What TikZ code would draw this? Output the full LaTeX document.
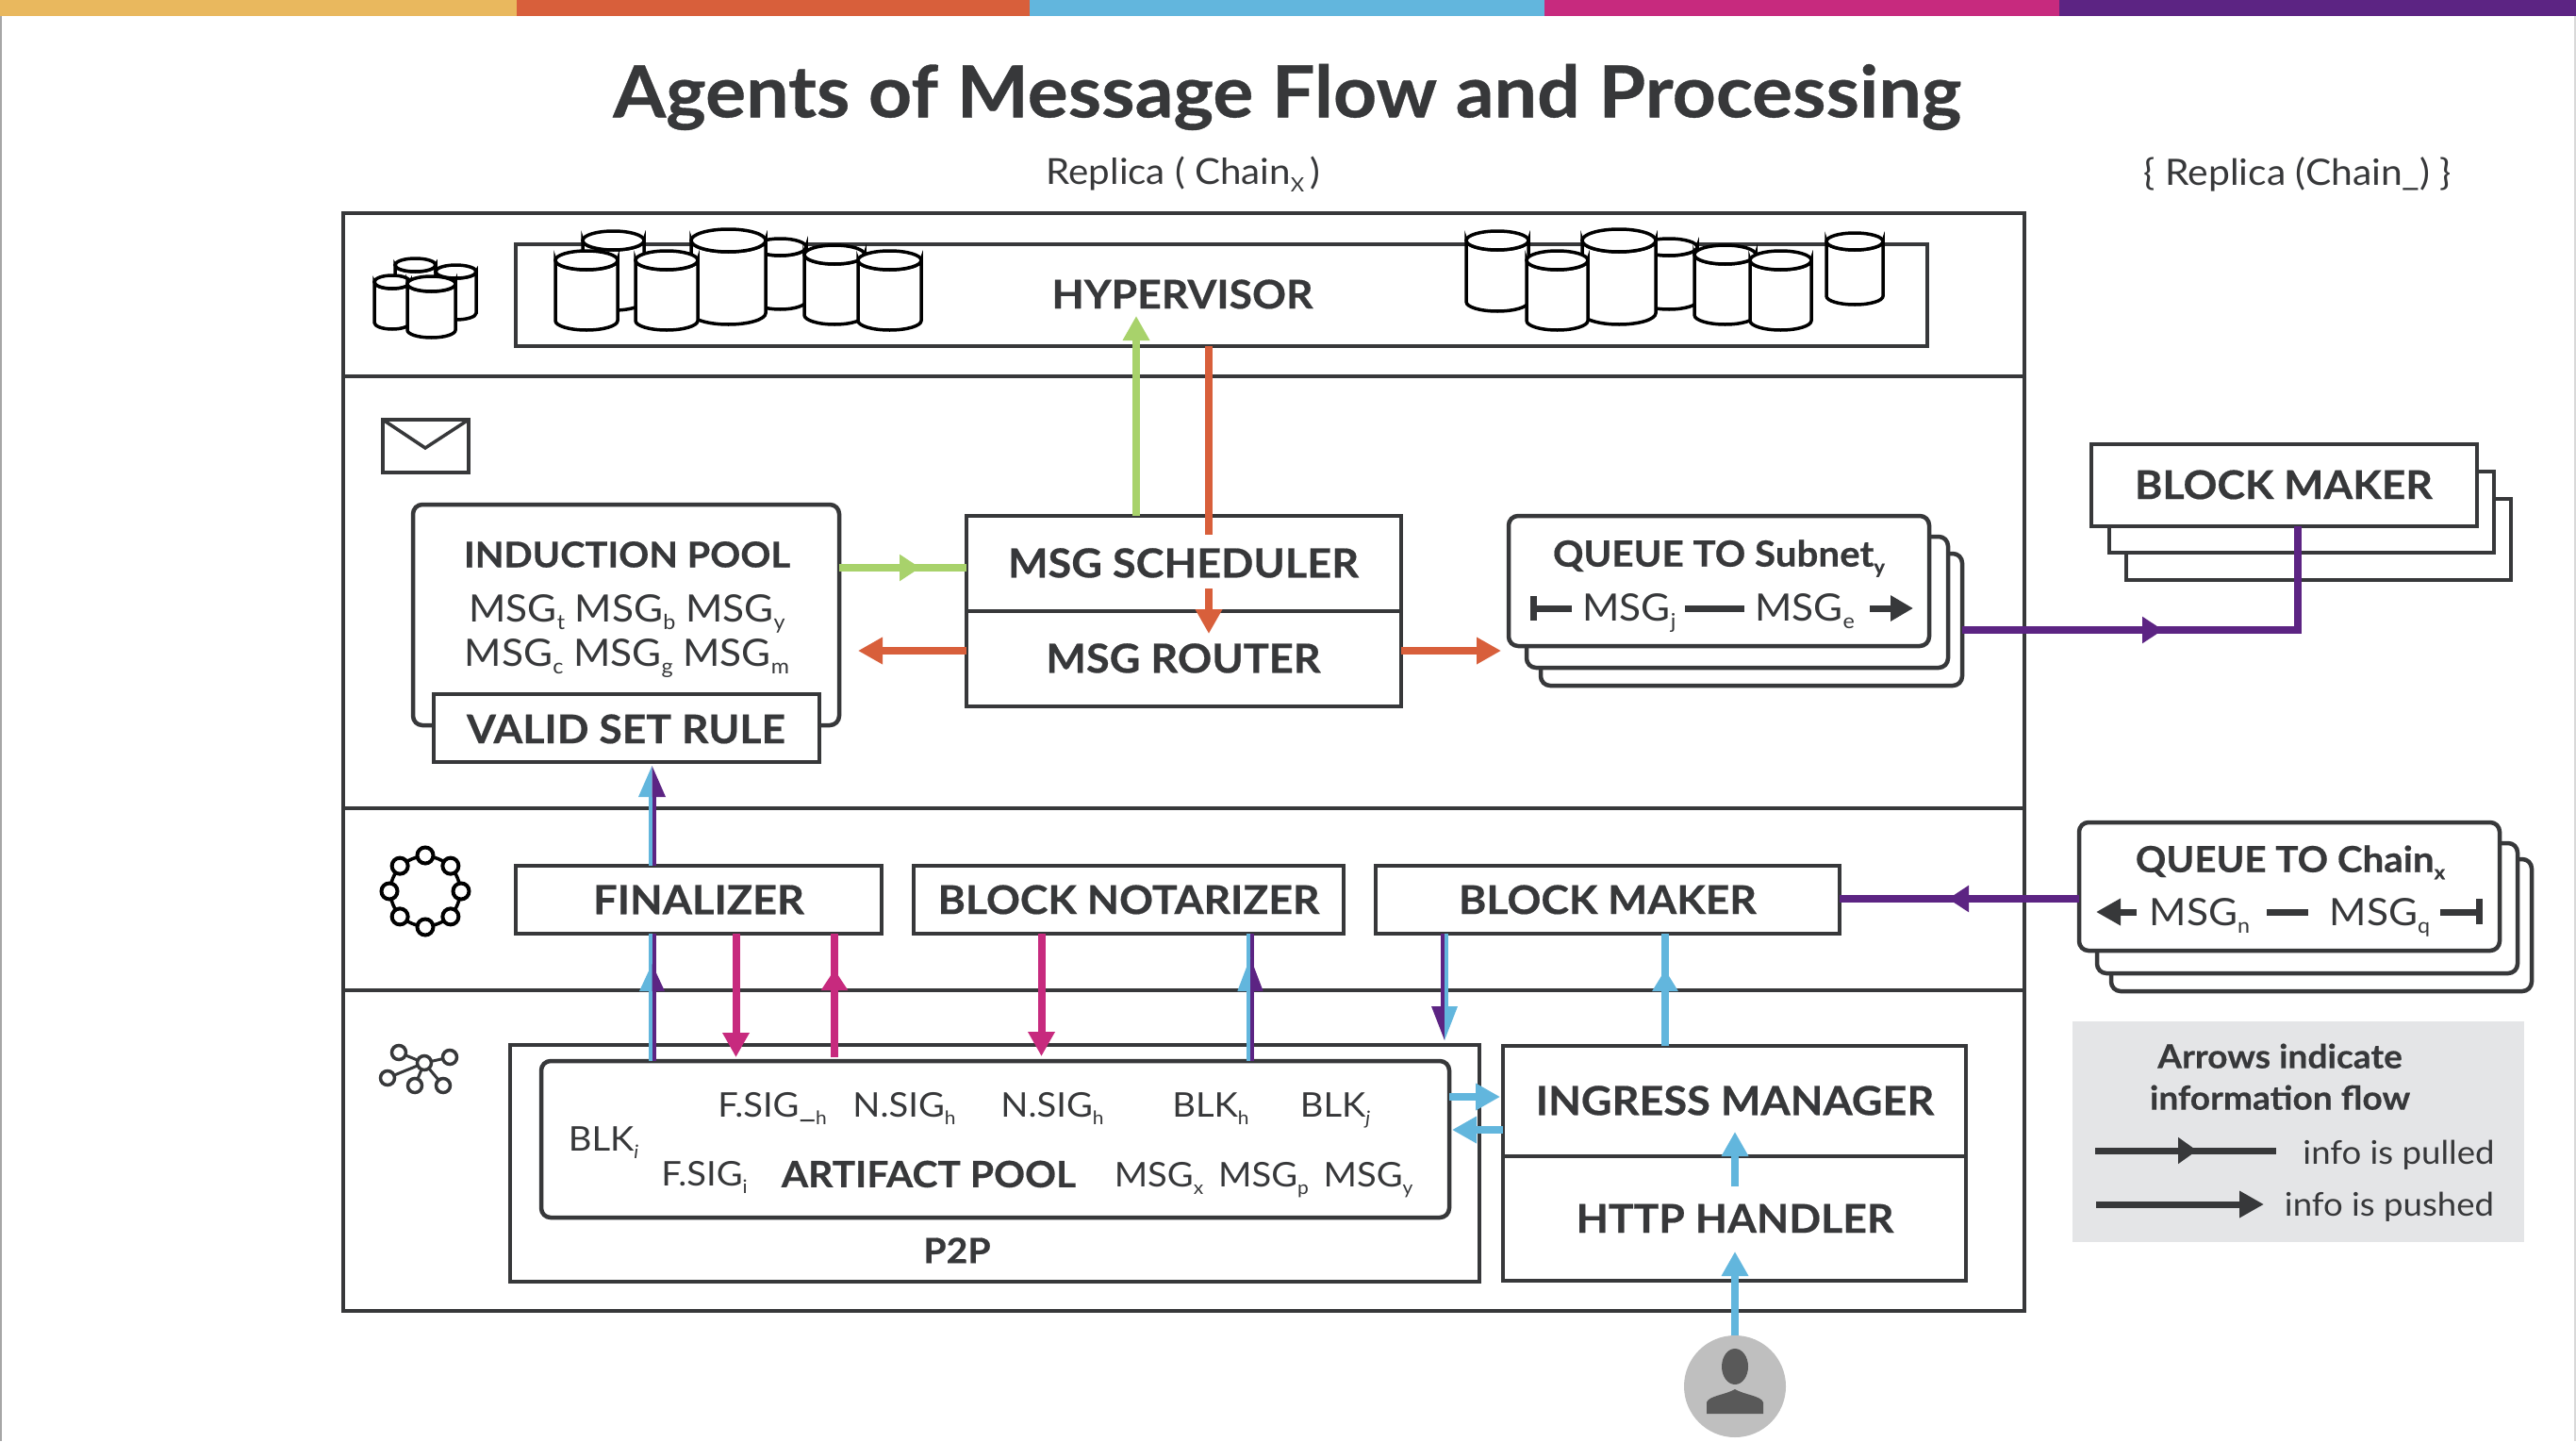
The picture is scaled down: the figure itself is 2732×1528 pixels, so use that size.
\documentclass[tikz,border=0pt]{standalone}
\usepackage{fontspec}
\usepackage{graphicx}
\setmainfont[FakeStretch=1.06,BoldFeatures={FakeBold=0.45}]{Lato}
\usetikzlibrary{arrows.meta}
\definecolor{ink}{HTML}{37383A}
\definecolor{cyel}{HTML}{E9B85E}
\definecolor{cred}{HTML}{D85F3B}
\definecolor{cblu}{HTML}{62B6DD}
\definecolor{cmag}{HTML}{C72A7E}
\definecolor{cpur}{HTML}{5C2483}
\definecolor{cgrn}{HTML}{A8D26B}
\definecolor{lgnd}{HTML}{E4E5E7}
\newcommand\sbs[1]{\raisebox{-0.2em}{\scalebox{.55}{#1}}}
\tikzset{
  boxn/.style={draw=ink,line width=4.5pt,fill=white,inner sep=0pt,outer sep=0pt,rectangle},
  rboxn/.style={boxn,rounded corners=10pt},
  txt/.style={inner sep=0pt,outer sep=0pt,text=ink,anchor=base,align=center},
  cylp/.style={draw=black,line width=3.5pt,fill=white},
  wire/.style={line width=8pt,draw=#1},
  hd/.style={-{Triangle[length=26pt,width=27pt]},line width=8pt,draw=#1},
  thinw/.style={line width=4pt,draw=#1},
}
\newcommand\boxat[6]{% style,name,x1,y1,x2,y2
  \pgfmathsetmacro\cxx{(#3+#5)/2}\pgfmathsetmacro\cyy{(#4+#6)/2}%
  \pgfmathsetmacro\cw{#5-#3}\pgfmathsetmacro\ch{#6-#4}%
  \node[#1,minimum width=\cw pt,minimum height=\ch pt] (#2) at (\cxx,\cyy) {};}
% text: name,x,ymid,size,bold flag cmd,text
\newcommand\tx[6]{%
  \pgfmathsetmacro\yb{#3+0.36*#4}%
  \pgfmathsetmacro\ls{#4*1.2}%
  \node[txt] (#1) at (#2,\yb) {\fontsize{#4pt}{\ls pt}\selectfont#5#6};}
\newcommand\cyl[5]{% xl xr ytop ybot ry
  \pgfmathsetmacro\rxx{(#2-#1)/2}\pgfmathsetmacro\cxx{(#1+#2)/2}%
  \path[cylp] (#1,#3) -- (#1,#4) arc[start angle=180,end angle=0,x radius=\rxx,y radius=#5] -- (#2,#3) arc[start angle=0,end angle=180,x radius=\rxx,y radius=#5] -- cycle;
  \path[cylp] (\cxx,#3) ellipse[x radius=\rxx,y radius=#5];}
\newcommand\splithead[6]{% x tipy basey half leftcol rightcol
  \fill[#5] (#1,#2) -- (#1-#4,#3) -- (#1,#3) -- cycle;
  \fill[#6] (#1,#2) -- (#1+#4,#3) -- (#1,#3) -- cycle;}
\begin{document}
\begin{tikzpicture}[x=1pt,y=-1pt]
\useasboundingbox (0,0) rectangle (2732,1528);
\fill[white] (0,0) rectangle (2732,1528);
% edge lines and top band
\draw[gray!70,line width=2pt] (1,0) -- (1,1528);
\draw[gray!30,line width=2pt] (2731,0) -- (2731,1528);
\fill[cyel] (0,0) rectangle (548,17);
\fill[cred] (548,0) rectangle (1092,17);
\fill[cblu] (1092,0) rectangle (1638,17);
\fill[cmag] (1638,0) rectangle (2184,17);
\fill[cpur] (2184,0) rectangle (2732,17);
% titles
\tx{title}{1365}{97}{76}{\bfseries}{Agents of Message Flow and Processing}
\tx{replica}{1255}{182}{38}{}{Replica ( Chain\sbs{X}\,)}
\tx{replicb}{2437}{183}{38.5}{}{\{ Replica (Chain\_) \}}
% outer frame
\boxat{boxn}{outer}{364}{226}{2147}{1390}
\draw[ink,line width=4.5pt] (364,399) -- (2147,399);
\draw[ink,line width=4.5pt] (364,857) -- (2147,857);
\draw[ink,line width=4.5pt] (364,1050) -- (2147,1050);
% hypervisor
\boxat{boxn}{hyper}{547}{259}{2044}{367}
\tx{hypertx}{1254}{312}{42}{\bfseries}{HYPERVISOR}
% left storage icon
\cyl{419}{462}{281}{330}{7}
\cyl{462}{505}{288}{332}{7}
\cyl{397}{435}{299}{342}{7}
\cyl{432}{483}{301}{350}{8}
% left cylinders
\cyl{618}{683}{255}{319}{10}
\cyl{800}{855}{262}{319}{9}
\cyl{733}{812}{255}{332}{12}
\cyl{853}{917}{270}{334}{10}
\cyl{910}{977}{276}{340}{10}
\cyl{589}{655}{276}{340}{10}
\cyl{674}{740}{276}{340}{10}
% right cylinders
\cyl{1555}{1621}{255}{320}{10}
\cyl{1740}{1800}{262}{319}{9}
\cyl{1678}{1756}{255}{332}{12}
\cyl{1619}{1684}{276}{340}{10}
\cyl{1797}{1862}{270}{334}{10}
\cyl{1856}{1921}{276}{340}{10}
\cyl{1937}{1997}{256}{314}{9}
% envelope
\draw[ink,line width=3.5pt] (406,445) rectangle (497,501);
\draw[ink,line width=3.5pt] (406,445) -- (451,475) -- (497,445);
% ring icon
\draw[black,line width=3.5pt] (451,945) circle[radius=37];
\foreach \a in {0,45,...,315}{\path[draw=black,fill=white,line width=4pt] (451,945) ++(\a:38) circle[radius=8.5];}
% network icon
\foreach \p in {(423,1116),(477,1121),(411,1143),(440,1151),(470,1151)}{\draw[ink,line width=3pt] (450,1127) -- \p;}
\foreach \p in {(423,1116),(477,1121),(411,1143),(440,1151),(470,1151),(450,1127)}{\path[draw=ink,fill=white,line width=3.5pt] \p circle[radius=7.5];}
% induction pool
\boxat{rboxn}{pool}{438}{535}{890}{769}
\boxat{boxn}{vsr}{460}{736}{869}{808}
\tx{pooltx}{665}{588}{37.5}{\bfseries}{INDUCTION POOL}
\tx{poola}{665}{645}{40}{}{MSG\sbs{t} MSG\sbs{b} MSG\sbs{y}}
\tx{poolb}{665}{692}{40}{}{MSG\sbs{c} MSG\sbs{g} MSG\sbs{m}}
\tx{vsrtx}{664}{773}{42}{\bfseries}{VALID SET RULE}
% scheduler/router
\boxat{boxn}{sched}{1025}{547}{1486}{648}
\boxat{boxn}{router}{1025}{648}{1486}{749}
\tx{schedtx}{1255}{597}{42.5}{\bfseries}{MSG SCHEDULER}
\tx{routertx}{1255}{698}{42.5}{\bfseries}{MSG ROUTER}
% queue to subnet
\boxat{rboxn}{qs3}{1634}{587}{2081}{727}
\boxat{rboxn}{qs2}{1619}{569}{2066}{708}
\boxat{rboxn}{qs1}{1600}{547}{2046}{685}
\tx{qstx}{1823}{587}{38}{\bfseries}{QUEUE TO Subnet\sbs{y}}
\tx{qsa}{1728}{644}{40}{}{MSG\sbs{j}}
\tx{qsb}{1914}{644}{40}{}{MSG\sbs{e}}
\draw[ink,line width=7pt] (1626,632) -- (1626,658);
\draw[ink,line width=7pt] (1626,645) -- (1667,645);
\draw[ink,line width=7pt] (1787,645) -- (1850,645);
\draw[ink,line width=7pt,-{Triangle[length=24pt,width=26pt]}] (1983,645) -- (2029,645);
% block maker stack (right)
\boxat{boxn}{bm3}{2255}{529}{2663}{615}
\boxat{boxn}{bm2}{2237}{500}{2645}{586}
\boxat{boxn}{bm1}{2218}{471}{2627}{558}
\tx{bmtx}{2422}{514}{42}{\bfseries}{BLOCK MAKER}
% queue to chain
\boxat{rboxn}{qc3}{2239}{911}{2685}{1051}
\boxat{rboxn}{qc2}{2224}{894}{2670}{1032}
\boxat{rboxn}{qc1}{2205}{872}{2651}{1008}
\tx{qctx}{2429}{911}{38}{\bfseries}{QUEUE TO Chain\sbs{x}}
\tx{qca}{2333}{967}{40}{}{MSG\sbs{n}}
\tx{qcb}{2524}{967}{40}{}{MSG\sbs{q}}
\draw[ink,line width=7pt,-{Triangle[length=26pt,width=27pt]}] (2266,967) -- (2223,967);
\draw[ink,line width=7pt] (2404,967) -- (2448,967);
\draw[ink,line width=7pt] (2588,967) -- (2628,967);
\draw[ink,line width=7pt] (2629,953) -- (2629,980);
% middle row
\boxat{boxn}{fin}{547}{918}{935}{990}
\boxat{boxn}{nota}{969}{918}{1425}{990}
\boxat{boxn}{bmk}{1459}{918}{1951}{990}
\tx{fintx}{741}{954}{42.5}{\bfseries}{FINALIZER}
\tx{notatx}{1197}{954}{42}{\bfseries}{BLOCK NOTARIZER}
\tx{bmktx}{1705}{954}{42}{\bfseries}{BLOCK MAKER}
% p2p
\boxat{boxn}{p2p}{541}{1108}{1569}{1359}
\boxat{rboxn}{art}{574}{1125}{1537}{1291}
\tx{p2ptx}{1015}{1326}{37}{\bfseries}{P2P}
\tx{fsigh}{819}{1172}{36}{}{F.SIG\_\sbs{h}}
\tx{nsiga}{959}{1172}{36}{}{N.SIG\sbs{h}}
\tx{nsigb}{1116}{1172}{36}{}{N.SIG\sbs{h}}
\tx{blkh}{1284}{1172}{36}{}{BLK\sbs{h}}
\tx{blkj}{1416}{1172}{36}{}{BLK\sbs{\textit{j}}}
\tx{blki}{640}{1208}{36}{}{BLK\sbs{\textit{i}}}
\tx{fsigi}{747}{1245}{36}{}{F.SIG\sbs{i}}
\tx{arttx}{985}{1245}{38.5}{\bfseries}{ARTIFACT POOL}
\tx{msgx}{1229}{1246}{36}{}{MSG\sbs{x}}
\tx{msgp}{1340}{1246}{36}{}{MSG\sbs{p}}
\tx{msgy}{1451}{1246}{36}{}{MSG\sbs{y}}
% ingress / http
\boxat{boxn}{ingr}{1594}{1109}{2085}{1226}
\boxat{boxn}{http}{1594}{1226}{2085}{1358}
\tx{ingrtx}{1840}{1167}{42.5}{\bfseries}{INGRESS MANAGER}
\tx{httptx}{1840}{1292}{42}{\bfseries}{HTTP HANDLER}
% user
\node[circle,fill=black!25,draw=none,minimum size=108pt,inner sep=0pt,outer sep=0pt] (user) at (1840,1470) {};
\fill[black!65] (1840,1449) ellipse[x radius=14,y radius=19];
\fill[black!65] (1810,1499) -- (1810,1487) .. controls (1812,1480) and (1830,1479) .. (1840,1473) .. controls (1850,1479) and (1868,1480) .. (1870,1487) -- (1870,1499) -- cycle;
% legend
\fill[lgnd] (2198,1083) rectangle (2677,1317);
\tx{lgta}{2418}{1120}{35}{\bfseries}{Arrows indicate}
\tx{lgtb}{2418}{1164}{35}{\bfseries}{information flow}
\tx{lgpl}{2544}{1222}{34.5}{}{info is pulled}
\tx{lgps}{2534}{1277}{34.5}{}{info is pushed}
\coordinate (lg1s) at (2222,1220); \coordinate (lg1e) at (2414,1220); \coordinate (lg1t) at (2330,1220);
\draw[ink,line width=7pt] (lg1s) -- (lg1e);
\draw[ink,line width=7pt,-{Triangle[length=20pt,width=27pt]}] (lg1s) -- (lg1t);
\coordinate (lg2s) at (2223,1277); \coordinate (lg2t) at (2401,1277);
\draw[ink,line width=7pt,-{Triangle[length=26pt,width=27pt]}] (lg2s) -- (lg2t);
% === connectors ===
% green: pool -> scheduler (pulled)
\coordinate (g1t) at (976,602);
\draw[wire=cgrn] (pool.east |- g1t) -- (sched.west |- g1t);
\draw[cgrn,line width=8pt,-{Triangle[length=22pt,width=27pt]}] (pool.east |- g1t) -- (g1t);
% green: scheduler -> hypervisor
\coordinate (g2t) at (1205,335);
\draw[hd=cgrn] (sched.north -| g2t) -- (g2t);
% red: hypervisor -> router
\coordinate (r1e) at (1282,567);
\draw[wire=cred] (hyper.south -| r1e) -- (r1e);
\coordinate (r1s) at (1282,624); \coordinate (r1t) at (1282,672);
\draw[hd=cred] (r1s) -- (r1t);
% red: router -> pool and queue
\coordinate (r2t) at (910,690); \coordinate (r3t) at (1592,690);
\draw[hd=cred] (router.west |- r2t) -- (r2t);
\draw[hd=cred] (router.east |- r3t) -- (r3t);
% purple: queue -> right block maker
\coordinate (pc) at (2437,668); \coordinate (pt) at (2294,668);
\draw[wire=cpur,line join=miter] (qs3.east |- pc) -- (pc) -- (bm1.south -| pc);
\draw[cpur,line width=8pt,-{Triangle[length=22pt,width=27pt]}] (qs3.east |- pc) -- (pt);
% purple: queue chain -> block maker
\coordinate (p2t) at (2066,953);
\draw[wire=cpur] (qc1.west |- p2t) -- (bmk.east |- p2t);
\draw[cpur,line width=8pt,-{Triangle[length=22pt,width=27pt]}] (qc1.west |- p2t) -- (p2t);
% finalizer split
\coordinate (fa) at (689.5,0); \coordinate (fb) at (693.5,0);
\draw[thinw=cblu] (fin.north -| fa) -- (689.5,845);
\draw[thinw=cpur] (fin.north -| fb) -- (693.5,845);
\splithead{691.5}{812}{845}{14.5}{cblu}{cpur}
\draw[thinw=cblu] (art.north -| fa) -- (fin.south -| fa);
\draw[thinw=cpur] (art.north -| fb) -- (fin.south -| fb);
\splithead{691.5}{1022}{1051}{13.5}{cblu}{cpur}
% magenta
\coordinate (m1) at (780.5,1121);
\draw[hd=cmag] (fin.south -| m1) -- (m1);
\coordinate (m2a) at (885,1121); \coordinate (m2t) at (885,1028);
\draw[wire=cmag] (m2a) -- (fin.south -| m2a);
\draw[cmag,line width=8pt,-{Triangle[length=22pt,width=27pt]}] (m2a) -- (m2t);
\coordinate (m3) at (1104.5,1120);
\draw[hd=cmag] (nota.south -| m3) -- (m3);
% notarizer split
\coordinate (na) at (1324,0); \coordinate (nb) at (1328,0);
\draw[thinw=cblu] (art.north -| na) -- (nota.south -| na);
\draw[thinw=cpur] (art.north -| nb) -- (nota.south -| nb);
\splithead{1326}{1015}{1051}{13.7}{cblu}{cpur}
% block maker split down
\coordinate (ba) at (1530,0); \coordinate (bb) at (1534,0);
\draw[thinw=cpur] (bmk.south -| ba) -- (1530,1067);
\draw[thinw=cblu] (bmk.south -| bb) -- (1534,1067);
\splithead{1532}{1103}{1067}{14}{cpur}{cblu}
% blue
\coordinate (b1t) at (1766,1028);
\draw[wire=cblu] (ingr.north -| b1t) -- (bmk.south -| b1t);
\draw[cblu,line width=8pt,-{Triangle[length=23pt,width=26pt]}] (ingr.north -| b1t) -- (b1t);
\coordinate (b2t) at (1591,1163); \coordinate (b3t) at (1540,1198);
\draw[hd=cblu] (art.east |- b2t) -- (b2t);
\draw[hd=cblu] (ingr.west |- b3t) -- (b3t);
\coordinate (b4s) at (1840,1258); \coordinate (b4t) at (1840,1200);
\draw[hd=cblu] (b4s) -- (b4t);
\coordinate (b5t) at (1840,1327);
\draw[hd=cblu] (user.north) -- (b5t);
\end{tikzpicture}
\end{document}
